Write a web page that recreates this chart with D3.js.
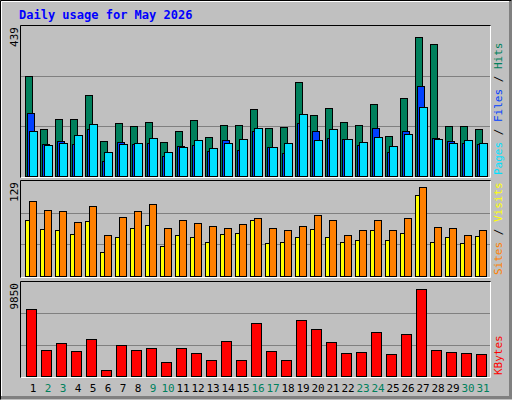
<!DOCTYPE html>
<html>
<head>
<meta charset="UTF-8">
<script src="https://d3js.org/d3.v7.min.js"></script>
<style>
  body { margin: 0; background: #fff; }
  text { font-family: "DejaVu Sans Mono", monospace; }
</style>
</head>
<body>
<script>
// values
var days = d3.range(1, 32);
var weekend = [2, 3, 9, 10, 16, 17, 23, 24, 30, 31];
var hits  = [306,145,174,174,249,108,163,154,166,105,137,171,120,157,157,206,148,151,289,186,209,166,157,220,122,240,424,404,154,154,143];
var files = [194,97,108,97,143,45,105,97,102,62,91,94,77,111,79,137,88,71,163,137,117,114,94,146,74,137,275,117,108,100,97];
var pages = [137,94,102,125,160,74,97,102,117,74,88,111,85,102,114,146,88,102,191,111,143,114,105,120,91,128,212,114,100,111,102];
var sites  = [79,66,65,59,77,34,54,67,71,42,58,55,47,59,60,78,46,47,55,66,55,47,51,65,50,60,113,47,54,46,56];
var visits = [105,93,91,75,98,58,83,91,101,67,78,74,70,67,73,81,67,65,70,86,78,58,65,79,65,81,124,69,67,58,65];
var kbytes = [6997,2720,3416,2620,3913,630,3217,2720,2919,1426,2919,2421,1625,3714,1625,5507,2620,1725,5906,4909,3516,2421,2521,4612,2322,4414,9093,2720,2521,2421,2322];
var maxTicks = ["439", "129", "9850"];

var W = 512, H = 400;
var svg = d3.select("body").append("svg").attr("width", W).attr("height", H);

// outer frame
svg.append("rect").attr("width", W).attr("height", H).attr("fill", "#c0c0c0");
svg.append("path").attr("d", "M0.5,399.5V0.5H511.5").attr("stroke", "#000").attr("fill", "none");
svg.append("path").attr("d", "M1.5,398.5V1.5H510.5").attr("stroke", "#fff").attr("fill", "none");
svg.append("path").attr("d", "M1,397.5H510.5V1").attr("stroke", "#808080").attr("stroke-width", 3).attr("fill", "none");

svg.append("text").attr("x", 19).attr("y", 19).attr("fill", "#0000ff")
  .attr("font-size", 12).attr("font-weight", "bold").text("Daily usage for May 2026");

var x = d3.scaleBand().domain(days).range([25, 490]).paddingInner(0).paddingOuter(0);

function panel(top, bottom, max, tick, series, legend) {
  var g = svg.append("g");
  g.append("path").attr("d", "M20.5," + (bottom + 0.5) + "V" + (top + 0.5) + "H490.5").attr("stroke", "#000").attr("fill", "none");
  g.append("path").attr("d", "M21," + (bottom + 0.5) + "H490.5V" + (top + 1)).attr("stroke", "#fff").attr("fill", "none");
  var y = d3.scaleLinear().domain([0, max]).range([bottom - 1, top + 1]);
  [1, 2].forEach(function (k) {
    var yy = Math.round(y(max * k / 3)) + 0.5;
    g.append("line").attr("x1", 21).attr("x2", 490).attr("y1", yy).attr("y2", yy).attr("stroke", "#808080");
  });
  series.forEach(function (s) {
    g.selectAll(null).data(s.data).enter().append("rect")
      .attr("x", function (d, i) { return x(days[i]) + s.dx + 0.5; })
      .attr("y", function (d) { return Math.round(y(d)) + 0.5; })
      .attr("width", s.w)
      .attr("height", function (d) { return Math.max(0, y(0) - Math.round(y(d))); })
      .attr("fill", s.color).attr("stroke", "#000");
  });
  g.append("text").attr("transform", "translate(18," + (top + 2) + ") rotate(-90)")
    .attr("text-anchor", "end").attr("font-size", 11).attr("fill", "#000").text(tick);
  var t = g.append("text").attr("transform", "translate(502," + (bottom - 2) + ") rotate(-90)")
    .attr("font-size", 11);
  legend.forEach(function (l, i) {
    if (i > 0) t.append("tspan").attr("fill", "#000").text("/");
    t.append("tspan").attr("fill", l[1]).text(l[0]);
  });
  return y;
}

panel(25, 177, 459, maxTicks[0], [
  { data: hits, dx: 0, w: 7, color: "#00805c" },
  { data: files, dx: 2, w: 7, color: "#0040ff" },
  { data: pages, dx: 4, w: 8, color: "#00e0ff" }
], [["Pages ", "#00e0ff"], [" Files ", "#0040ff"], [" Hits", "#00805c"]]);

panel(180, 277, 129 * 1.03, maxTicks[1], [
  { data: sites, dx: 0, w: 4, color: "#ffff00" },
  { data: visits, dx: 4, w: 7, color: "#ff8000" }
], [["Sites ", "#ff8000"], [" Visits", "#ffff00"]]);

panel(281, 377, 9850, maxTicks[2], [
  { data: kbytes, dx: 1, w: 10, color: "#ff0000" }
], [["KBytes", "#ff0000"]]);

svg.selectAll(".day").data(days).enter().append("text")
  .attr("x", function (d) { return x(d) + 8; })
  .attr("y", 392).attr("text-anchor", "middle").attr("font-size", 11)
  .attr("fill", function (d) { return weekend.indexOf(d) >= 0 ? "#00805c" : "#000"; })
  .text(function (d) { return d; });
</script>
</body>
</html>
